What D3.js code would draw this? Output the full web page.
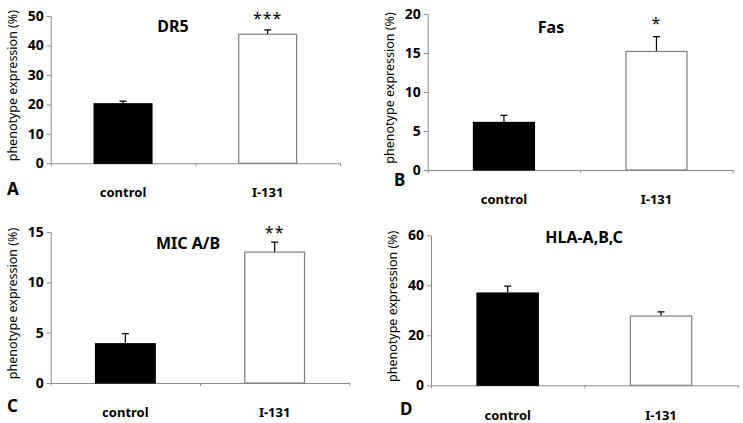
<!DOCTYPE html>
<html>
<head>
<meta charset="utf-8">
<script src="https://cdn.jsdelivr.net/npm/d3@7"></script>
<style>
  body { margin: 0; background: #fff; }
  svg { display: block; }
  text { font-family: "Noto Sans", "DejaVu Sans", sans-serif; }
</style>
</head>
<body>
<div id="vis"></div>
<script>
const WIDTH = 743;
const HEIGHT = 423;

// data
const panelTitles = ["DR5", "Fas", "MIC A/B", "HLA-A,B,C"];
const panelLetters = ["A", "B", "C", "D"];
const groups = ["control", "I-131"];
const means = [
  [20.2, 43.8],
  [6.1, 15.2],
  [3.9, 13.0],
  [36.9, 27.7],
];
const errors = [
  [0.9, 1.5],
  [0.9, 1.9],
  [1.0, 1.0],
  [2.8, 1.7],
];
const yMax = [50, 20, 15, 60];
const yTicks = [
  [0, 10, 20, 30, 40, 50],
  [0, 5, 10, 15, 20],
  [0, 5, 10, 15],
  [0, 20, 40, 60],
];
const stars = ["***", "*", "**", ""];

// layout of each panel (axis box in page pixels)
const boxes = [
  { left: 50.7, right: 340, top: 16, bottom: 163.3, title: [173, 32], letter: [7, 195], label: 197, star: 24 },
  { left: 427.7, right: 732.7, top: 14, bottom: 170, title: [551, 33], letter: [394, 186], label: 204, star: 29 },
  { left: 50.7, right: 349.3, top: 232, bottom: 383, title: [188, 249], letter: [7, 412], label: 417, star: 238 },
  { left: 431, right: 737.7, top: 235.3, bottom: 385.3, title: [584, 243], letter: [400, 415], label: 420, star: 0 },
];

const svg = d3
  .select("#vis")
  .append("svg")
  .attr("width", WIDTH)
  .attr("height", HEIGHT);

boxes.forEach((b, i) => {
  const g = svg.append("g").attr("class", "panel-" + i);

  const x = d3
    .scaleBand()
    .domain(groups)
    .range([b.left, b.right])
    .paddingInner(0.6)
    .paddingOuter(0.3);

  const y = d3.scaleLinear().domain([0, yMax[i]]).range([b.bottom, b.top]);

  // y axis
  const yAxis = g
    .append("g")
    .attr("transform", `translate(${b.left},0)`)
    .call(d3.axisLeft(y).tickValues(yTicks[i]).tickSize(4).tickSizeOuter(0).tickPadding(3));
  yAxis.select(".domain").attr("stroke", "#8c8c8c");
  yAxis.selectAll(".tick line").attr("stroke", "#8c8c8c");
  yAxis
    .selectAll(".tick text")
    .attr("fill", "#000")
    .style("font-size", "14px")
    .style("font-weight", "bold");

  // x axis (tick at each category boundary)
  const xEdge = d3.scaleLinear().domain([0, groups.length]).range([b.left, b.right]);
  const xAxis = g
    .append("g")
    .attr("transform", `translate(0,${b.bottom})`)
    .call(d3.axisBottom(xEdge).tickValues(d3.range(groups.length + 1)).tickSize(3).tickSizeOuter(0).tickFormat(""));
  xAxis.select(".domain").attr("stroke", "#8c8c8c");
  xAxis.selectAll(".tick line").attr("stroke", "#8c8c8c");

  const rows = groups.map((k, j) => ({ group: k, mean: means[i][j], err: errors[i][j] }));

  // error bars (drawn before bars so the stem starts at the bar top)
  g.selectAll(".err")
    .data(rows)
    .enter()
    .append("path")
    .attr("class", "err")
    .attr("fill", "none")
    .attr("stroke", "#000")
    .attr("stroke-width", 1.2)
    .attr("d", (d) => {
      const cx = x(d.group) + x.bandwidth() / 2;
      const yt = y(d.mean + d.err);
      return `M${cx},${y(d.mean)}V${yt}M${cx - 3.5},${yt}H${cx + 3.5}`;
    });

  // bars
  g.selectAll(".bar")
    .data(rows)
    .enter()
    .append("rect")
    .attr("class", "bar")
    .attr("x", (d) => x(d.group))
    .attr("width", x.bandwidth())
    .attr("y", (d) => y(d.mean))
    .attr("height", (d) => b.bottom - y(d.mean))
    .attr("fill", (d, j) => (j === 0 ? "#000" : "#fff"))
    .attr("stroke", (d, j) => (j === 0 ? "#000" : "#7f7f7f"))
    .attr("stroke-width", 1.2);

  // category labels
  g.selectAll(".cat")
    .data(groups)
    .enter()
    .append("text")
    .attr("class", "cat")
    .attr("x", (d) => x(d) + x.bandwidth() / 2)
    .attr("y", b.label)
    .attr("text-anchor", "middle")
    .style("font-size", "13px")
    .style("font-weight", "bold")
    .text((d) => d);

  // significance stars over the I-131 bar
  if (stars[i]) {
    g.append("text")
      .attr("x", x(groups[1]) + x.bandwidth() / 2)
      .attr("y", b.star)
      .attr("text-anchor", "middle")
      .style("font-size", "16px")
      .style("letter-spacing", "1px")
      .text(stars[i]);
  }

  // title
  g.append("text")
    .attr("x", b.title[0])
    .attr("y", b.title[1])
    .attr("text-anchor", "middle")
    .style("font-size", "16px")
    .style("font-weight", "bold")
    .text(panelTitles[i]);

  // panel letter
  g.append("text")
    .attr("x", b.letter[0])
    .attr("y", b.letter[1])
    .style("font-size", "17px")
    .style("font-weight", "bold")
    .text(panelLetters[i]);

  // y axis title
  g.append("text")
    .attr("transform", `translate(${b.left - 34},${(b.top + b.bottom) / 2 - 4}) rotate(-90)`)
    .attr("text-anchor", "middle")
    .style("font-size", "12.5px")
    .text("phenotype expression (%)");
});
</script>
</body>
</html>
